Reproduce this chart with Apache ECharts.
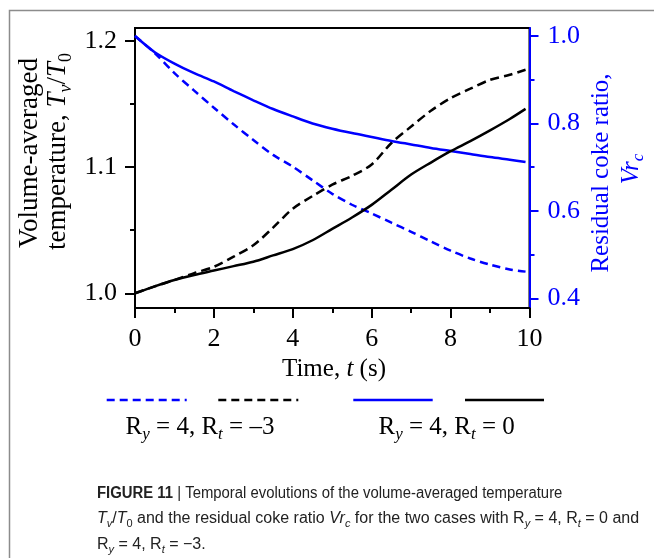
<!DOCTYPE html>
<html><head><meta charset="utf-8">
<script src="https://cdn.jsdelivr.net/npm/echarts@6/dist/echarts.min.js"></script>
<style>html,body{margin:0;padding:0;background:#fff}#c{width:654px;height:558px}</style>
</head><body><div id="c"></div>
<script>
// ---- data ----
const time = [0,0.5,1,1.5,2,2.5,3,3.5,4,4.5,5,5.5,6,6.5,7,7.5,8,8.5,9,9.5,9.9];
const tempRt0 = [1.000,1.0055,1.0105,1.0145,1.018,1.0215,1.025,1.030,1.035,1.042,1.051,1.060,1.070,1.082,1.094,1.1035,1.1125,1.1205,1.129,1.138,1.146];
const tempRt3 = [1.000,1.0055,1.0105,1.016,1.021,1.029,1.038,1.052,1.067,1.077,1.086,1.093,1.102,1.119,1.132,1.1445,1.1545,1.162,1.169,1.173,1.177];
const cokeRt0 = [1.000,0.963,0.937,0.915,0.896,0.874,0.853,0.833,0.816,0.800,0.788,0.778,0.769,0.760,0.752,0.744,0.737,0.730,0.723,0.717,0.712];
const cokeRt3 = [1.000,0.961,0.915,0.875,0.836,0.798,0.762,0.728,0.701,0.670,0.639,0.614,0.594,0.573,0.552,0.530,0.509,0.491,0.477,0.466,0.461];
const xTicks = [0,2,4,6,8,10];
const tempTicks = [1.0,1.1,1.2];
const tempMinor = [1.05,1.15];
const cokeTicks = [0.4,0.6,0.8,1.0];
const cokeMinor = [0.5,0.7,0.9];

const SERIF = '"Liberation Serif", "Times New Roman", serif';
const SANS = '"Liberation Sans", Arial, sans-serif';
const BLUE = '#0000ff';
const BLACK = '#000000';
const TICK_FS = 26;

function pairs(ys){ return time.map((t,i)=>[t, ys[i]]); }
function rich(fs, color, fam){
  fam = fam || SERIF;
  const sub = Math.round(fs*0.68);
  const lh = Math.round(fs*1.3);
  return {
    n:{fontFamily:fam,fontSize:fs,lineHeight:lh,fill:color},
    b:{fontFamily:fam,fontSize:fs,lineHeight:lh,fill:color,fontWeight:'bold'},
    i:{fontFamily:fam,fontSize:fs,lineHeight:lh,fill:color,fontStyle:'italic'},
    s:{fontFamily:fam,fontSize:sub,verticalAlign:'bottom',fill:color},
    si:{fontFamily:fam,fontSize:sub,verticalAlign:'bottom',fill:color,fontStyle:'italic'}
  };
}
function txt(x,y,text,r,opts){
  opts = opts||{};
  return {type:'text', x:x, y:y, rotation:opts.rot||0, scaleX:opts.sx||1, z:10,
    style:{text:text, rich:r, align:opts.align||'center', verticalAlign:'middle'}};
}

const chart = echarts.init(document.getElementById('c'), null, {renderer:'canvas'});
const axisLineBlack = {color:BLACK,width:2};
const axisLineBlue = {color:BLUE,width:2};

const option = {
  animation:false,
  backgroundColor:'#fff',
  grid:{left:135, top:28, width:394.5, height:280, show:true, borderColor:BLACK, borderWidth:2, backgroundColor:'transparent', containLabel:false, outerBoundsMode:'none'},
  xAxis:{type:'value', min:0, max:10, interval:2, position:'bottom',
    axisLine:{show:true,onZero:false,lineStyle:axisLineBlack},
    axisTick:{show:true,length:10,lineStyle:axisLineBlack},
    minorTick:{show:true,splitNumber:2,length:5,lineStyle:axisLineBlack},
    splitLine:{show:false}, minorSplitLine:{show:false},
    axisLabel:{customValues:xTicks, fontFamily:SERIF, fontSize:TICK_FS, color:BLACK, margin:18, formatter:v=>String(v)}
  },
  yAxis:[
    {type:'value', position:'left', min:0.98836, max:1.21006,
     axisLine:{show:true,onZero:false,lineStyle:axisLineBlack},
     axisTick:{show:true,length:10,customValues:tempTicks,lineStyle:axisLineBlack},
     axisLabel:{customValues:tempTicks, fontFamily:SERIF, fontSize:TICK_FS, color:BLACK, margin:18, formatter:v=>v.toFixed(1)},
     splitLine:{show:false}},
    {type:'value', position:'left', min:0.98836, max:1.21006,
     axisLine:{show:false},
     axisTick:{show:true,length:5,customValues:tempMinor,lineStyle:axisLineBlack},
     axisLabel:{show:false}, splitLine:{show:false}},
    {type:'value', position:'right', min:0.37781, max:1.0183,
     axisLine:{show:true,onZero:false,lineStyle:axisLineBlue},
     axisTick:{show:true,length:9,customValues:cokeTicks,lineStyle:axisLineBlue},
     axisLabel:{customValues:cokeTicks, fontFamily:SERIF, fontSize:TICK_FS, color:BLUE, margin:18, formatter:v=>v.toFixed(1)},
     splitLine:{show:false}},
    {type:'value', position:'right', min:0.37781, max:1.0183,
     axisLine:{show:false},
     axisTick:{show:true,length:5,customValues:cokeMinor,lineStyle:axisLineBlue},
     axisLabel:{show:false}, splitLine:{show:false}}
  ],
  series:[
    {type:'line', name:'Vrc (Ry=4, Rt=-3)', yAxisIndex:2, data:pairs(cokeRt3), showSymbol:false, symbol:'none', smooth:0.3,
     lineStyle:{color:BLUE,width:2.5,type:[8,5]}, itemStyle:{color:BLUE}},
    {type:'line', name:'Tv/T0 (Ry=4, Rt=-3)', yAxisIndex:0, data:pairs(tempRt3), showSymbol:false, symbol:'none', smooth:0.3,
     lineStyle:{color:BLACK,width:2.5,type:[9,5]}, itemStyle:{color:BLACK}},
    {type:'line', name:'Vrc (Ry=4, Rt=0)', yAxisIndex:2, data:pairs(cokeRt0), showSymbol:false, symbol:'none', smooth:0.3,
     lineStyle:{color:BLUE,width:2.5}, itemStyle:{color:BLUE}},
    {type:'line', name:'Tv/T0 (Ry=4, Rt=0)', yAxisIndex:0, data:pairs(tempRt0), showSymbol:false, symbol:'none', smooth:0.3,
     lineStyle:{color:BLACK,width:2.5}, itemStyle:{color:BLACK}}
  ],
  graphic:[
    {type:'polyline', shape:{points:[[9.5,558],[9.5,10.5],[654,10.5]]}, style:{stroke:'#8c8c8c',lineWidth:1.5,fill:null}, silent:true},
    // y-axis titles
    txt(30,153,'{n|Volume-averaged}',rich(27,BLACK),{rot:Math.PI/2}),
    txt(58,151.5,'{n|temperature, }{i|T}{si|v}{n|/}{i|T}{s|0}',rich(27,BLACK),{rot:Math.PI/2}),
    txt(601.5,173,'{n|Residual coke ratio,}',rich(25,BLUE),{rot:Math.PI/2}),
    txt(631,169,'{i|Vr}{si|c}',rich(25,BLUE),{rot:Math.PI/2}),
    // x title
    txt(334,369,'{n|Time, }{i|t}{n| (s)}',rich(25,BLACK)),
    // legend samples
    {type:'line', shape:{x1:106.7,y1:400,x2:186.7,y2:400}, style:{stroke:BLUE,lineWidth:2.7,lineDash:[8,5]}},
    {type:'line', shape:{x1:218.3,y1:400,x2:298.3,y2:400}, style:{stroke:BLACK,lineWidth:2.7,lineDash:[8,5]}},
    {type:'line', shape:{x1:353.3,y1:400,x2:432.7,y2:400}, style:{stroke:BLUE,lineWidth:2.7}},
    {type:'line', shape:{x1:465,y1:400,x2:544,y2:400}, style:{stroke:BLACK,lineWidth:2.7}},
    txt(200,427,'{n|R}{si|y}{n| = 4, R}{si|t}{n| = –3}',rich(25,BLACK)),
    txt(446.7,427,'{n|R}{si|y}{n| = 4, R}{si|t}{n| = 0}',rich(25,BLACK)),
    // caption
    txt(97,493.5,'{b|FIGURE 11}{n| | Temporal evolutions of the volume-averaged temperature}',rich(16,'#222',SANS),{align:'left',sx:0.93}),
    txt(97,519,'{i|T}{si|v}{n|/}{i|T}{s|0}{n| and the residual coke ratio }{i|Vr}{si|c}{n| for the two cases with R}{si|y}{n| = 4, R}{si|t}{n| = 0 and}',rich(16,'#222',SANS),{align:'left'}),
    txt(97,545,'{n|R}{si|y}{n| = 4, R}{si|t}{n| = −3.}',rich(16,'#222',SANS),{align:'left'})
  ]
};
chart.setOption(option);
</script>
</body></html>
